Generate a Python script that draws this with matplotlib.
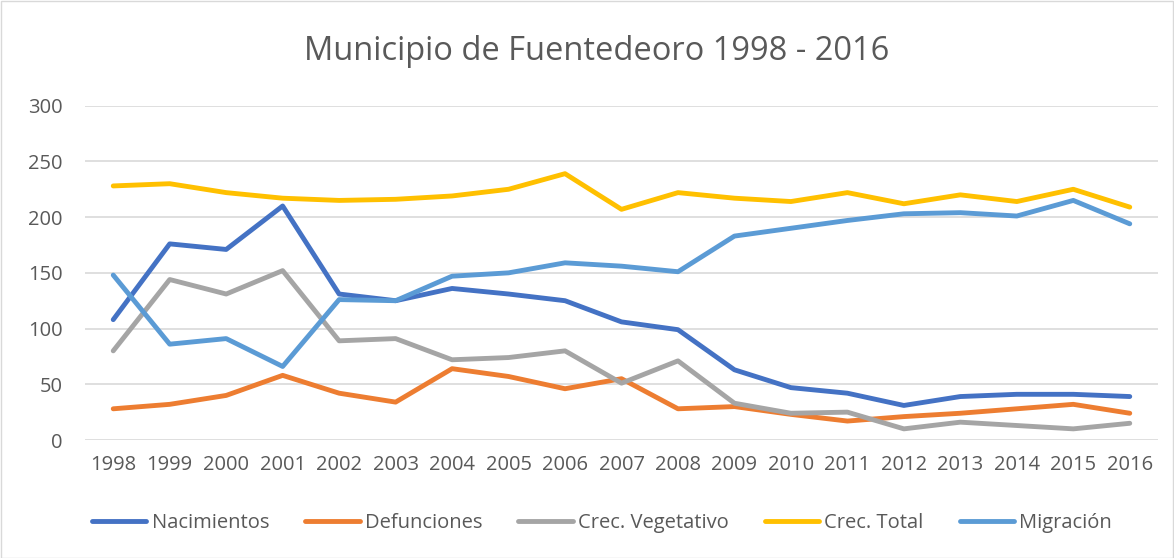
import matplotlib
matplotlib.use("Agg")
import matplotlib.pyplot as plt
from matplotlib.patches import Rectangle

years = [str(y) for y in range(1998, 2017)]
nacimientos = [108, 176, 171, 210, 131, 125, 136, 131, 125, 106, 99, 63, 47, 42, 31, 39, 41, 41, 39]
defunciones = [28, 32, 40, 58, 42, 34, 64, 57, 46, 55, 28, 30, 23, 17, 21, 24, 28, 32, 24]
crec_vegetativo = [80, 144, 131, 152, 89, 91, 72, 74, 80, 51, 71, 33, 24, 25, 10, 16, 13, 10, 15]
crec_total = [228, 230, 222, 217, 215, 216, 219, 225, 239, 207, 222, 217, 214, 222, 212, 220, 214, 225, 209]
migracion = [148, 86, 91, 66, 126, 125, 147, 150, 159, 156, 151, 183, 190, 197, 203, 204, 201, 215, 194]

series = [
    ("Nacimientos", nacimientos, "#4472C4"),
    ("Defunciones", defunciones, "#ED7D31"),
    ("Crec. Vegetativo", crec_vegetativo, "#A5A5A5"),
    ("Crec. Total", crec_total, "#FFC000"),
    ("Migración", migracion, "#5B9BD5"),
]

plt.rcParams['font.family'] = ['Open Sans', 'DejaVu Sans']
W, H = 1174, 558
fig = plt.figure(figsize=(W / 100, H / 100), dpi=100)
ax = fig.add_axes([85 / W, 1 - 440 / H, (1158 - 85) / W, (440 - 105.7) / H])

x = list(range(len(years)))
for name, vals, col in series:
    ax.plot(x, vals, color=col, linewidth=3.5, solid_capstyle='round',
            solid_joinstyle='round', label=name)

ax.set_xlim(-0.5, len(years) - 0.5)
ax.set_ylim(0, 300)
ax.set_yticks(range(0, 301, 50))
ax.set_xticks(x)
ax.set_xticklabels(years)
ax.grid(axis='y', color='#D9D9D9', linewidth=1.2)
ax.set_axisbelow(True)
for s in ax.spines.values():
    s.set_visible(False)
ax.tick_params(axis='both', length=0, labelsize=14.5, colors='#595959')
ax.tick_params(axis='x', pad=11)
ax.tick_params(axis='y', pad=16)

fig.text(597 / W, 1 - 51 / H, "Municipio de Fuentedeoro 1998 - 2016", ha='center', va='center',
         fontsize=23.5, color='#595959')

leg = fig.legend(loc='center', bbox_to_anchor=(602 / W, 1 - 523 / H), ncol=5, frameon=False,
                 fontsize=14.5, labelcolor='#595959', handlelength=2.7, handletextpad=0.25,
                 columnspacing=1.8)

fig.patches.append(Rectangle((0.5 / W, 0.5 / H), 1 - 1.5 / W, 1 - 1.5 / H, transform=fig.transFigure,
                             fill=False, edgecolor='#D9D9D9', linewidth=1))

fig.savefig("out.png", dpi=100, facecolor='white')
